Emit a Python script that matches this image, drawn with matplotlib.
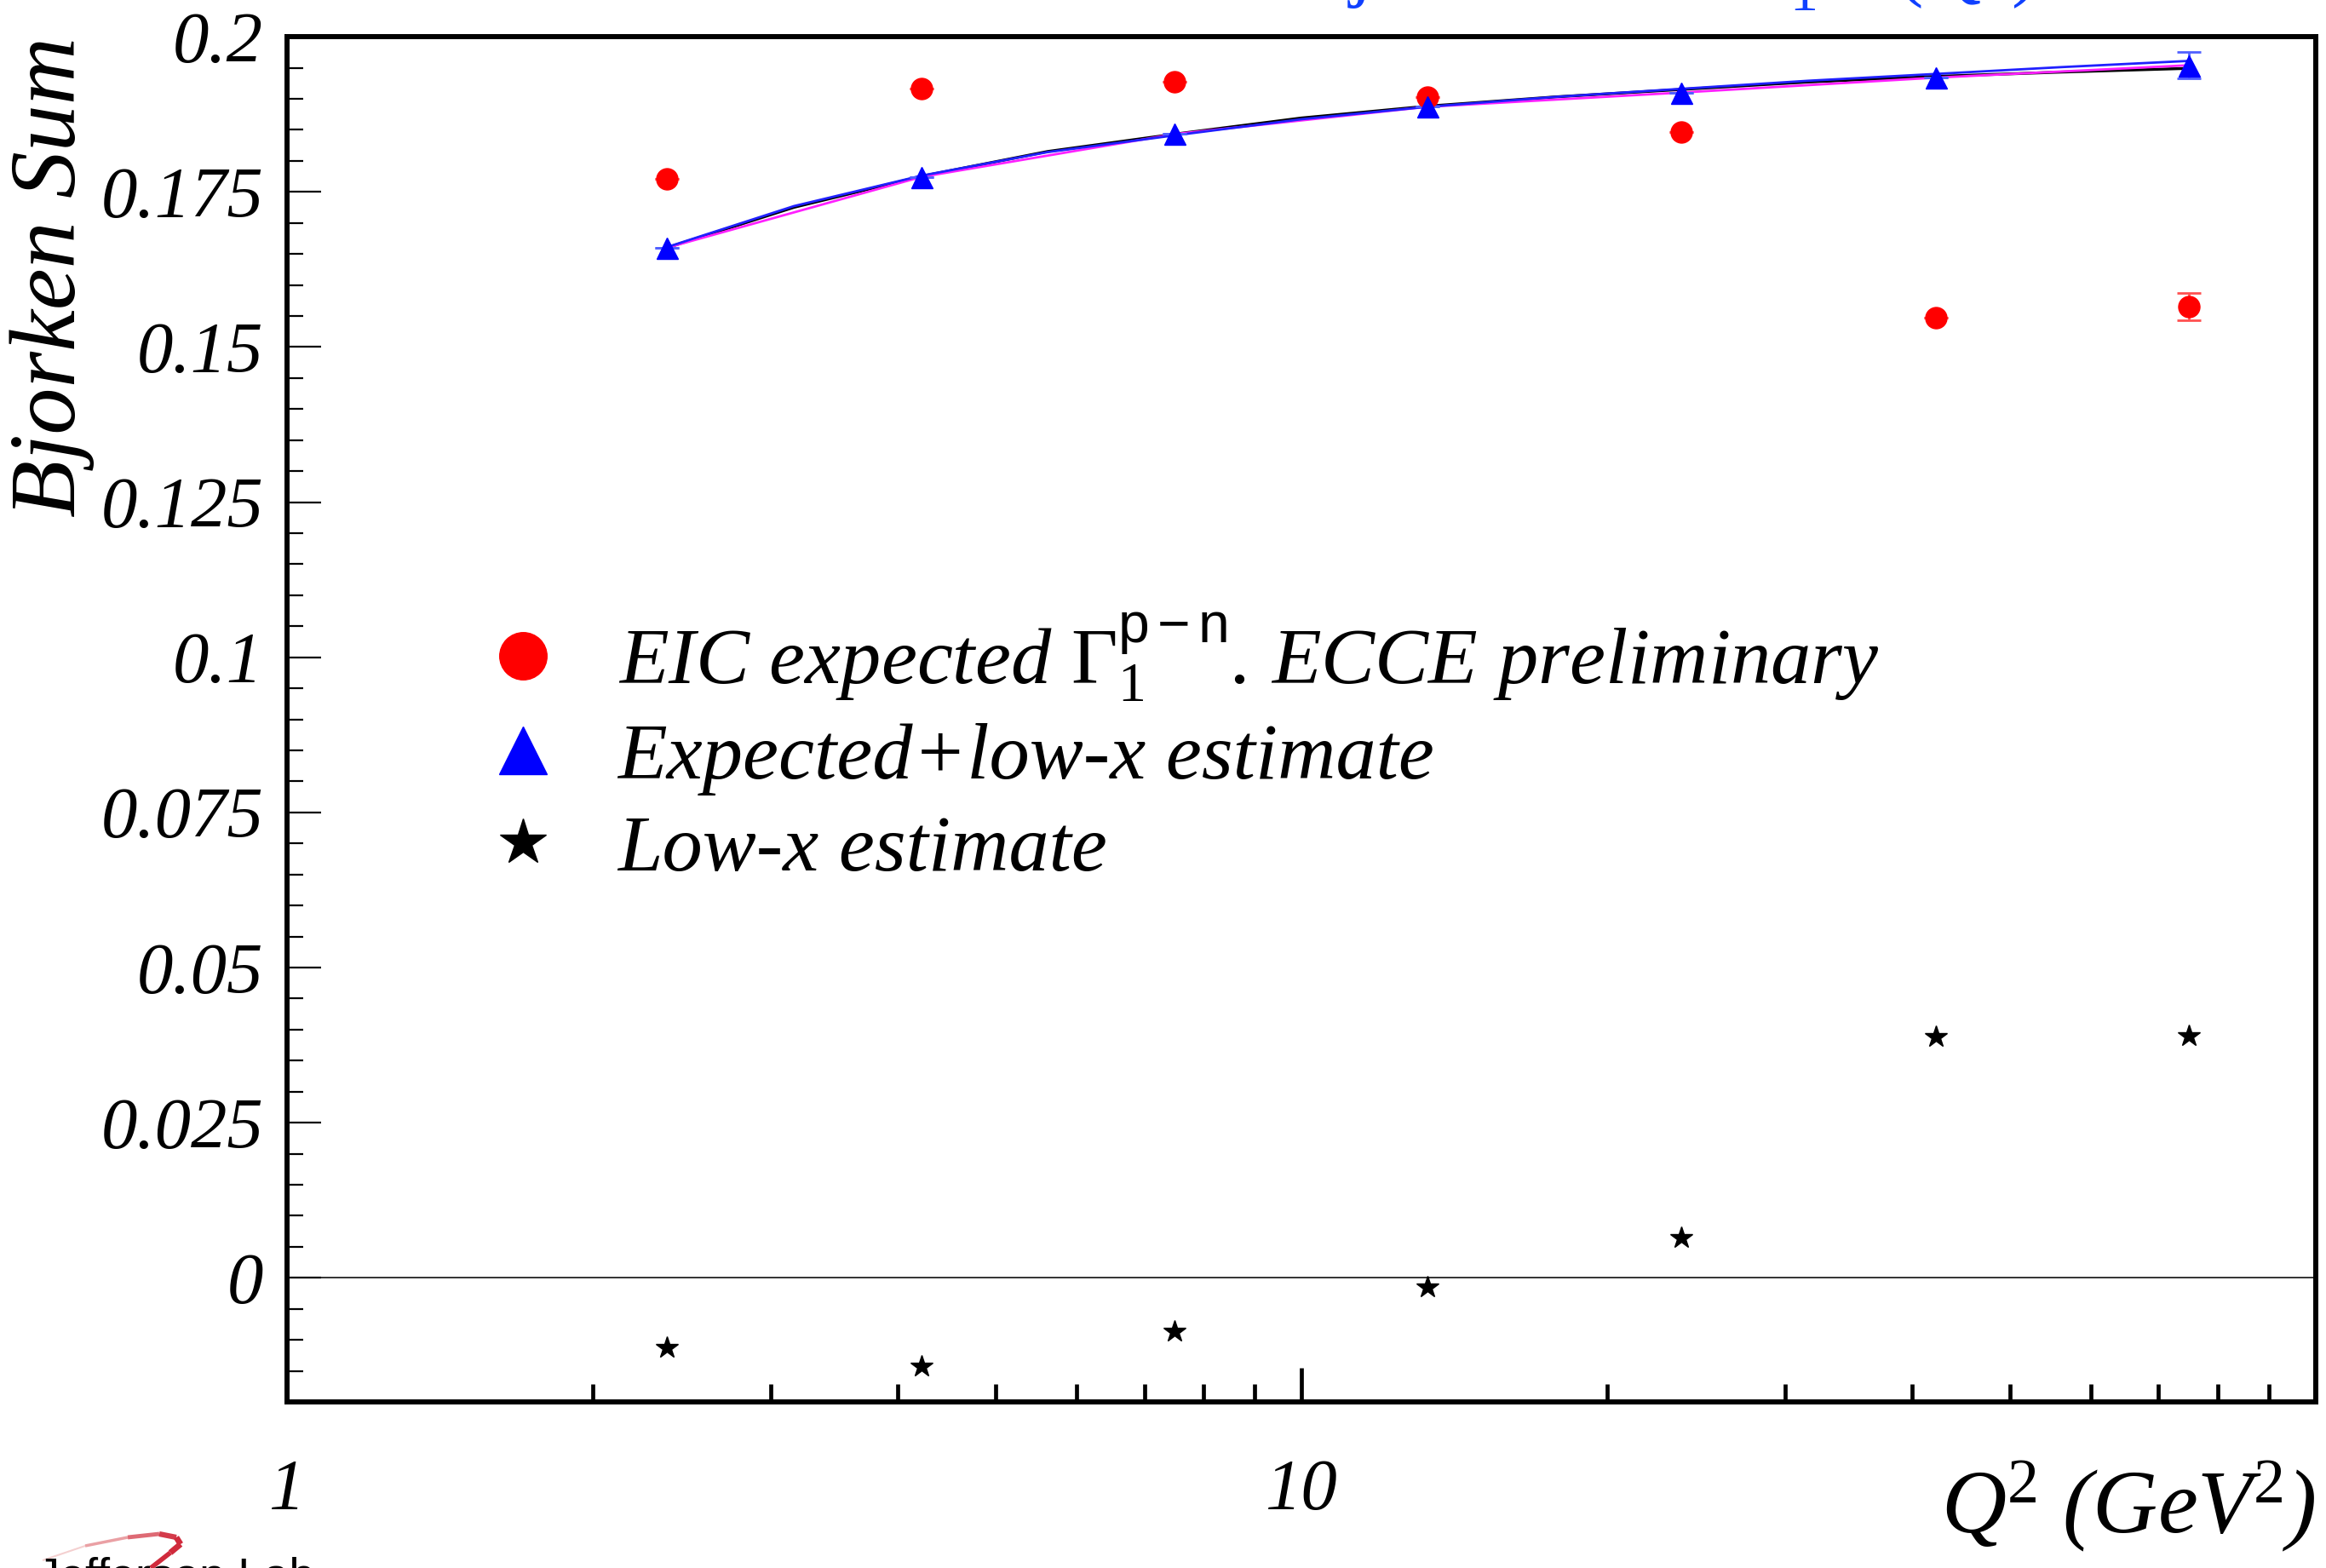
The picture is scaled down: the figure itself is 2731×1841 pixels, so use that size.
import matplotlib
matplotlib.use("Agg")
import matplotlib.pyplot as plt
from matplotlib.lines import Line2D
from matplotlib.collections import LineCollection
from matplotlib.ticker import FixedLocator, FixedFormatter, NullFormatter

plt.rcParams["font.family"] = ["Liberation Serif", "DejaVu Serif"]
plt.rcParams["font.style"] = "italic"
plt.rcParams["mathtext.fontset"] = "custom"
plt.rcParams["mathtext.rm"] = "Liberation Serif:style=normal"
plt.rcParams["mathtext.it"] = "Liberation Serif:style=italic"
plt.rcParams["mathtext.sf"] = "Liberation Sans:style=normal"

# ---- data ------------------------------------------------------------------
Q2 = [2.37, 4.22, 7.50, 13.3, 23.7, 42.2, 75.0]
eic_sum = [0.1771, 0.1916, 0.1927, 0.1903, 0.1847, 0.1547, 0.1565]
eic_err = [0.0, 0.0, 0.0, 0.0, 0.0, 0.0, 0.0022]
combined = [0.1660, 0.1774, 0.1843, 0.1887, 0.1910, 0.1934, 0.1954]
combined_err = [0.0, 0.0, 0.0, 0.0, 0.0, 0.0, 0.0021]
lowx = [-0.0112, -0.0142, -0.0086, -0.0014, 0.0065, 0.0389, 0.0390]

curve_q2 = [2.37, 3.16, 4.22, 5.62, 7.50, 10.0, 13.3, 17.8, 23.7, 31.6, 42.2, 56.2, 75.0]
curve_black = [0.1660, 0.1725, 0.1775, 0.1815, 0.1843, 0.1869, 0.1888, 0.1903,
               0.1915, 0.1927, 0.1936, 0.1943, 0.1949]
curve_blue = [0.1661, 0.1727, 0.1776, 0.1814, 0.1841, 0.1867, 0.1887, 0.1903,
              0.1916, 0.1929, 0.1940, 0.1951, 0.1961]

YTICKS = [0, 0.025, 0.05, 0.075, 0.1, 0.125, 0.15, 0.175, 0.2]
YTICK_LABELS = ["0", "0.025", "0.05", "0.075", "0.1", "0.125", "0.15", "0.175", "0.2"]
XTICKS = [1, 10, 100]
XTICK_LABELS = ["1", "10", ""]
XMINOR = [2, 3, 4, 5, 6, 7, 8, 9, 20, 30, 40, 50, 60, 70, 80, 90]

LEGEND_LABELS = [r"EIC expected $\Gamma_{\mathit{1}}^{\mathsf{p-n}}$. ECCE preliminary",
                 "Expected+low-x estimate",
                 "Low-x estimate"]

# ---- figure ---------------------------------------------------------------
fig = plt.figure(figsize=(27.31, 18.41), dpi=100)
ax = fig.add_axes([0.1234, 0.1059, 0.8722, 0.8707])
ax.set_xscale("log")
ax.set_xlim(1, 100)
ax.set_ylim(-0.02, 0.2)

ax.axhline(0, color="#333333", lw=1.4, zorder=1)

ax.plot(curve_q2, curve_black, color="black", lw=2.4, zorder=2)
ax.plot(Q2, combined, color="#ff20ff", lw=2.0, zorder=2)
ax.plot(curve_q2, curve_blue, color="#2020ff", lw=2.0, zorder=2)

ax.errorbar(Q2, eic_sum, yerr=eic_err, fmt="o", color="red", ms=18,
            ecolor="#ff5050", elinewidth=2, capsize=10, capthick=2, zorder=3)
ax.errorbar(Q2, combined, yerr=combined_err, fmt="^", color="blue", ms=18,
            ecolor="#5060ff", elinewidth=2, capsize=10, capthick=2, zorder=3)
ax.plot(Q2, lowx, ls="none", marker="*", color="black", ms=19, zorder=3)

# axes cosmetics (ROOT look)
for s in ax.spines.values():
    s.set_linewidth(4.3)
ax.yaxis.set_major_locator(FixedLocator(YTICKS))
ax.yaxis.set_major_formatter(FixedFormatter(YTICK_LABELS))
ax.yaxis.set_minor_locator(FixedLocator([i * 0.005 for i in range(-4, 41)]))
ax.xaxis.set_major_locator(FixedLocator(XTICKS))
ax.xaxis.set_major_formatter(FixedFormatter(XTICK_LABELS))
ax.xaxis.set_minor_locator(FixedLocator(XMINOR))
ax.xaxis.set_minor_formatter(NullFormatter())
ax.tick_params(axis="y", which="major", direction="in", length=29, width=1.6,
               labelsize=61, pad=20, right=False)
ax.tick_params(axis="y", which="minor", direction="in", length=14, width=1.6, right=False)
ax.tick_params(axis="x", which="major", direction="in", length=29, width=3.4,
               labelsize=61, pad=48, top=False)
ax.tick_params(axis="x", which="minor", direction="in", length=15, width=3.4, top=False)

ax.set_ylabel("Bjorken Sum", fontsize=79, loc="top")
ax.yaxis.set_label_coords(-0.095, 1.0)
ax.set_xlabel(r"Q$^{\mathit{2}}$ (GeV$^{\mathit{2}}$)", fontsize=76, loc="right")
ax.xaxis.set_label_coords(1.0, -0.042)

handles = [Line2D([], [], ls="none", marker="o", color="red", ms=40),
           Line2D([], [], ls="none", marker="^", color="blue", ms=41),
           Line2D([], [], ls="none", marker="*", color="black", ms=41)]
ax.legend(handles, LEGEND_LABELS, loc="center left", bbox_to_anchor=(0.0965, 0.478),
          frameon=False, fontsize=68, handlelength=1.0, handletextpad=0.68,
          labelspacing=0.23, borderpad=0, borderaxespad=0)

# blue title, mostly cut off by the top edge
fig.text(0.557, 1.0049, r"Bjorken Sum $\Gamma_{1}^{\mathrm{p-n}}\mathrm{(Q^{2})}$",
         color="#1040ff", fontsize=68, style="normal", va="baseline", ha="left")

# Jefferson Lab logo, cut off at the bottom
fig.text(0.0157, 0.0071, "Jefferson Lab", family="Liberation Sans", style="normal",
         fontsize=39, va="top", ha="left", color="black")
W, H = 2731.0, 1841.0
swoosh = [(50, 1832), (100, 1815), (150, 1805), (187, 1801), (207, 1805),
          (212, 1813), (200, 1823), (177, 1841)]
pts = [(x / W, 1 - y / H) for x, y in swoosh]
segs = [[pts[i], pts[i + 1]] for i in range(len(pts) - 1)]
cols = ["#f4d0d0", "#eaa0a4", "#de6a74", "#d43a4a", "#d02a3c", "#d02a3c", "#d02a3c"]
lws = [1.5, 2.5, 3.5, 4.5, 5, 5, 4]
fig.add_artist(LineCollection(segs, colors=cols, linewidths=lws, transform=fig.transFigure))

fig.savefig("out.png", dpi=100)
